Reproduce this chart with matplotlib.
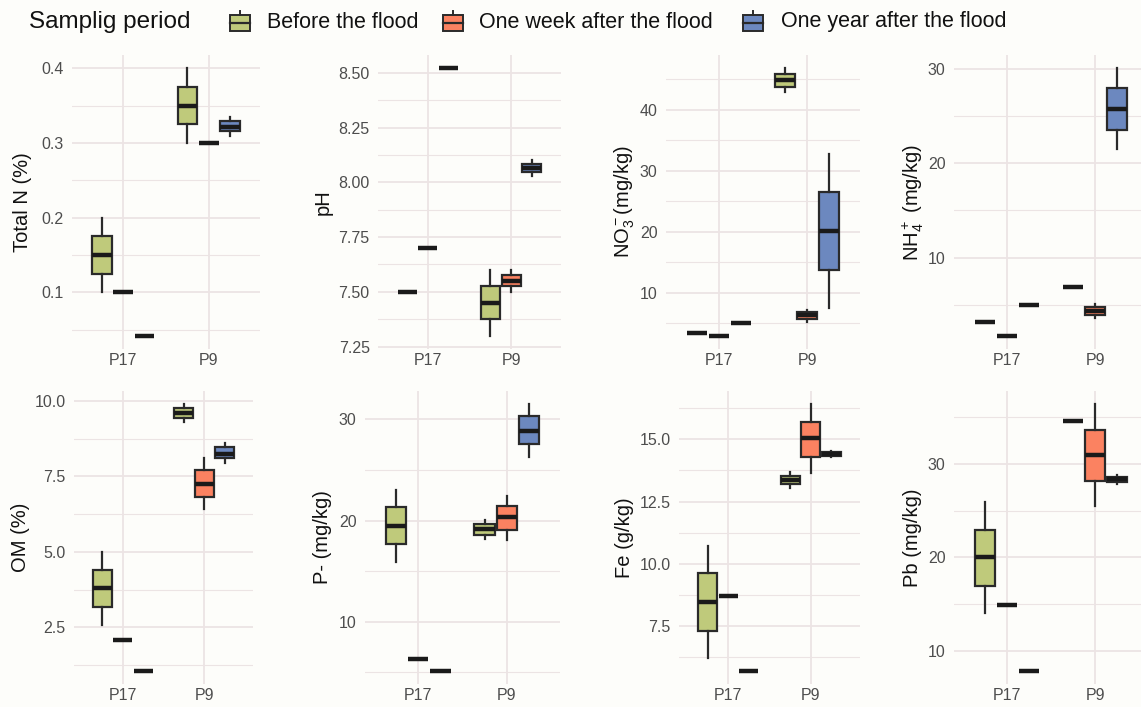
import matplotlib
matplotlib.use("Agg")
import matplotlib.pyplot as plt
from matplotlib.patches import Rectangle
from matplotlib.ticker import MultipleLocator, AutoMinorLocator, FormatStrFormatter

plt.rcParams["font.family"] = ["Liberation Sans", "DejaVu Sans"]
plt.rcParams["mathtext.fontset"] = "custom"
plt.rcParams["mathtext.rm"] = "Liberation Sans"
plt.rcParams["mathtext.it"] = "Liberation Sans:italic"

W, H = 1141, 707
BG = "#fdfdfa"
GRID = "#ece4e4"
EDGE = "#2a2a2a"

sites = ["P17", "P9"]
periods = ["Before the flood", "One week after the flood", "One year after the flood"]
colors = ["#bfca7b", "#fb8261", "#6c88bf"]

# box stats: (whisker low, q1, median, q3, whisker high)
# order: P17 before/week/year, then P9 before/week/year
total_n = [(0.10, 0.125, 0.15, 0.175, 0.20), (0.10,) * 5, (0.042,) * 5,
           (0.30, 0.325, 0.35, 0.375, 0.40), (0.30,) * 5, (0.31, 0.316, 0.322, 0.329, 0.335)]
ph = [(7.50,) * 5, (7.70,) * 5, (8.52,) * 5,
      (7.30, 7.375, 7.45, 7.525, 7.60), (7.50, 7.525, 7.55, 7.578, 7.60), (8.03, 8.045, 8.066, 8.085, 8.10)]
no3 = [(3.4,) * 5, (3.0,) * 5, (5.0,) * 5,
       (42.9, 43.7, 44.9, 45.9, 46.8), (5.3, 5.7, 6.3, 6.8, 7.2), (7.6, 13.8, 20.2, 26.5, 32.7)]
nh4 = [(3.2,) * 5, (1.7,) * 5, (4.95,) * 5,
       (6.9,) * 5, (3.56, 3.84, 4.3, 4.73, 5.02), (21.5, 23.6, 25.8, 28.0, 30.1)]
om = [(2.59, 3.18, 3.81, 4.41, 5.0), (2.1,) * 5, (1.07,) * 5,
      (9.32, 9.45, 9.61, 9.76, 9.89), (6.41, 6.83, 7.26, 7.71, 8.1), (7.96, 8.1, 8.26, 8.47, 8.62)]
p_av = [(15.9, 17.7, 19.5, 21.3, 23.0), (6.3,) * 5, (5.15,) * 5,
        (18.2, 18.6, 19.2, 19.65, 20.1), (18.1, 19.1, 20.4, 21.4, 22.45), (26.3, 27.6, 28.9, 30.3, 31.5)]
fe = [(6.2, 7.31, 8.48, 9.62, 10.71), (8.7,) * 5, (5.7,) * 5,
      (13.03, 13.19, 13.36, 13.53, 13.69), (13.63, 14.3, 15.04, 15.71, 16.41), (14.28, 14.32, 14.4, 14.48, 14.52)]
pb = [(14.0, 16.9, 20.0, 22.95, 25.9), (14.9,) * 5, (7.85,) * 5,
      (34.6,) * 5, (25.45, 28.14, 31.0, 33.7, 36.4), (27.85, 28.05, 28.35, 28.65, 28.85)]

# panel frame in pixels: left, right, top, bottom; y-title x position; tick step; tick format
panels = [
    (total_n, "Total N (%)", (72, 260, 55, 349), 23, 0.1, "%.1f"),
    (ph, "pH", (378, 561, 55, 349), 323, 0.25, "%.2f"),
    (no3, r"NO$_3^-$(mg/kg)", (666, 860, 55, 349), 625, 10, "%d"),
    (nh4, r"NH$_4^+$ (mg/kg)", (954, 1148, 55, 349), 913, 10, "%d"),
    (om, "OM (%)", (74, 253, 391, 684), 20, 2.5, "%.1f"),
    (p_av, "P- (mg/kg)", (365, 560, 391, 684), 323, 10, "%d"),
    (fe, "Fe (g/kg)", (679, 860, 391, 684), 625, 2.5, "%.1f"),
    (pb, "Pb (mg/kg)", (954, 1148, 391, 684), 913, 10, "%d"),
]

fig = plt.figure(figsize=(W / 100, H / 100), dpi=100, facecolor=BG)

offsets = [-0.25, 0.0, 0.25]
for data, label, (l, r, t, b), lab_x, step, fmt in panels:
    ax = fig.add_axes([l / W, 1 - b / H, (r - l) / W, (b - t) / H])
    ax.set_facecolor(BG)
    stats = []
    pos = []
    for i, s in enumerate(data):
        site = i // 3
        per = i % 3
        stats.append(dict(whislo=s[0], q1=s[1], med=s[2], q3=s[3], whishi=s[4], fliers=[]))
        pos.append(site + 1 + offsets[per])
    res = ax.bxp(stats, positions=pos, widths=0.23, patch_artist=True, showcaps=False,
                 boxprops=dict(edgecolor=EDGE, linewidth=1.6),
                 whiskerprops=dict(color=EDGE, linewidth=1.6),
                 medianprops=dict(color="#1a1a1a", linewidth=3.2, solid_capstyle="butt"),
                 zorder=3)
    for i, box in enumerate(res["boxes"]):
        box.set_facecolor(colors[i % 3])
    lo = min(s[0] for s in data)
    hi = max(s[4] for s in data)
    pad = (hi - lo) * 0.05
    ax.set_ylim(lo - pad, hi + pad)
    ax.set_xlim(0.4, 2.6)
    ax.set_xticks([1, 2])
    ax.set_xticklabels(sites)
    ax.yaxis.set_major_locator(MultipleLocator(step))
    ax.yaxis.set_minor_locator(AutoMinorLocator(2))
    ax.yaxis.set_major_formatter(FormatStrFormatter(fmt))
    ax.grid(which="major", color=GRID, linewidth=1.3, zorder=0)
    ax.grid(which="minor", axis="y", color=GRID, linewidth=0.8, zorder=0)
    ax.set_axisbelow(True)
    for sp in ax.spines.values():
        sp.set_visible(False)
    ax.tick_params(which="both", length=0, labelsize=11.5, labelcolor="#4d4d4d")
    ax.tick_params(axis="y", pad=6)
    ax.tick_params(axis="x", pad=3)
    fig.text(lab_x / W, 1 - (t + b) / 2 / H, label, rotation=90, ha="center", va="center",
             fontsize=14.5, color="#111111")

# legend strip along the top
lg = fig.add_axes([0, 1 - 45 / H, 1, 45 / H])
lg.set_xlim(0, W)
lg.set_ylim(45, 0)
lg.axis("off")
lg.text(29, 22, "Samplig period", fontsize=17.5, va="center", ha="left", color="#111111")
key_x = [240, 453, 753]
text_x = [267, 479, 781]
for kx, tx, c, name in zip(key_x, text_x, colors, periods):
    lg.plot([kx, kx], [11, 15], color=EDGE, linewidth=1.4)
    lg.add_patch(Rectangle((kx - 10, 15), 20, 16, facecolor=c, edgecolor=EDGE, linewidth=1.4))
    lg.plot([kx - 10, kx + 10], [23, 23], color=EDGE, linewidth=1.6)
    lg.text(tx, 22, name, fontsize=15.5, va="center", ha="left", color="#111111")

fig.savefig("out.png", dpi=100, facecolor=BG)
